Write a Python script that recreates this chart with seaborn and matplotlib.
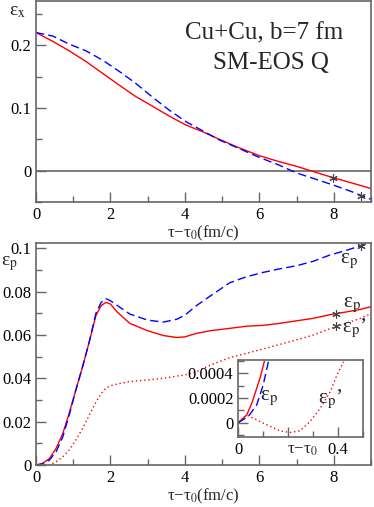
import numpy as np
import pandas as pd
import matplotlib
matplotlib.use('Agg')
import matplotlib.pyplot as plt
import seaborn as sns
from matplotlib.ticker import MultipleLocator

# top panel: eps_x vs tau - tau0
t_x = [0, 0.45, 0.89, 1.34, 1.79, 2.24, 2.68, 3.13, 3.58, 4.03, 4.47, 4.92, 5.37, 6, 6.5, 7, 7.5, 8, 8.5, 9]
epsx_red = [0.22, 0.206, 0.191, 0.174, 0.155, 0.136, 0.118, 0.1026, 0.0868, 0.0726, 0.0621, 0.050, 0.0384,
            0.0238, 0.0148, 0.0068, -0.0025, -0.0116, -0.020, -0.0286]
epsx_blue = [0.22, 0.2145, 0.2016, 0.191, 0.176, 0.158, 0.139, 0.117, 0.0963, 0.0779, 0.0637, 0.049, 0.0374,
             0.021, 0.0095, -0.0037, -0.0135, -0.0233, -0.034, -0.046]
star_x = [7.97, 8.73]
star_y = [-0.0116, -0.0397]

# bottom panel: eps_p (red, blue) and eps_p' (red dotted)
t_p = [0, 0.18, 0.36, 0.54, 0.72, 0.89, 1.07, 1.25, 1.43, 1.61, 1.75, 1.88, 2.0, 2.17, 2.52, 3.0, 3.42,
       3.78, 4.0, 4.31, 4.67, 5.2, 5.65, 6.1, 6.5, 7.0, 7.44, 7.89, 8.34, 8.7, 9.0]
epsp_red = [0, 0.0008, 0.003, 0.0077, 0.0146, 0.0238, 0.0346, 0.0453, 0.0568, 0.069, 0.0735, 0.075, 0.0742,
            0.0707, 0.0653, 0.0619, 0.0597, 0.0588, 0.0591, 0.0607, 0.0619, 0.063, 0.064, 0.0644, 0.0652,
            0.0665, 0.0676, 0.0693, 0.0706, 0.0717, 0.073]
epsp_blue = [0, 0.0005, 0.0023, 0.0061, 0.013, 0.023, 0.0346, 0.0453, 0.0568, 0.070, 0.075, 0.0767, 0.0757,
             0.0737, 0.0696, 0.0668, 0.0659, 0.0672, 0.0691, 0.0735, 0.0778, 0.084, 0.0868, 0.0888, 0.0903,
             0.0919, 0.0939, 0.0968, 0.099, 0.101, 0.103]
epsp2_red = [0, 0, 0, 0.0015, 0.0038, 0.0069, 0.0115, 0.0169, 0.023, 0.029, 0.033, 0.0355, 0.0365, 0.0373,
             0.0385, 0.0392, 0.040, 0.041, 0.0415, 0.043, 0.046, 0.0495, 0.0515, 0.0535, 0.0554, 0.0577,
             0.0599, 0.0628, 0.0655, 0.0675, 0.0699]
pstar_x = [8.72, 8.05, 8.05]
pstar_y = [0.101, 0.0696, 0.064]

# inset: early times
ti_red = [0, 0.034, 0.055, 0.074, 0.09, 0.105]
ei_red = [0, 0.000062, 0.00016, 0.000278, 0.00038, 0.0005]
ti_blue = [0, 0.04, 0.074, 0.1, 0.121]
ei_blue = [0, 0.000049, 0.000143, 0.000305, 0.000495]
ti_dot = [0, 0.034, 0.101, 0.168, 0.208, 0.248, 0.288, 0.329, 0.369, 0.396, 0.423]
ei_dot = [0, 0.000062, -0.0000054, -0.0000676, -0.000081, -0.0000676, 0.000008, 0.000116, 0.00025,
          0.000386, 0.000495]

sns.set_style('ticks')
plt.rcParams['font.family'] = ['Liberation Serif', 'DejaVu Serif']
plt.rcParams['mathtext.fontset'] = 'stix'
plt.rcParams['axes.edgecolor'] = '#666666'
plt.rcParams['axes.linewidth'] = 1.2

fig = plt.figure(figsize=(3.74, 5.07), dpi=100)
ax1 = fig.add_axes([0.0963, 0.6016, 0.896, 0.396])
ax2 = fig.add_axes([0.0963, 0.0828, 0.896, 0.4385])
ax3 = fig.add_axes([0.637, 0.1375, 0.333, 0.1525])

FS = 12
LFS = 15
EPS_P = 'ε$_{\\rm p}$'
EPS_P2 = 'ε$_{\\rm p}$\u2019'


def style(ax):
    ax.tick_params(which='both', direction='in', colors='#666666', labelcolor='black',
                   labelsize=FS, top=False, right=False)
    ax.tick_params(which='major', length=7, width=1.0)
    ax.tick_params(which='minor', length=4, width=1.0)


lw = 1.0
dash = (0, (6, 3))
dot = (0, (1, 2))
star = dict(ls='none', marker=(6, 2, 0), color='#444444', ms=6, mew=0.8)

# top panel
ax1.axhline(0, color='#666666', lw=1.2)
sns.lineplot(x=t_x, y=epsx_red, ax=ax1, color='red', lw=lw)
sns.lineplot(x=t_x, y=epsx_blue, ax=ax1, color='blue', lw=lw, linestyle=dash)
ax1.plot(star_x, star_y, **star)
ax1.set_xlim(0, 9)
ax1.set_ylim(-0.05, 0.27)
ax1.set_xticks([0, 2, 4, 6, 8])
ax1.set_xticklabels(['0', '2', '4', '6', '8'])
ax1.xaxis.set_minor_locator(MultipleLocator(1))
ax1.set_yticks([0, 0.1, 0.2])
ax1.set_yticklabels(['0', '0.1', '0.2'])
ax1.yaxis.set_minor_locator(MultipleLocator(0.05))
ax1.set_xlabel('τ−τ$_{\\rm 0}$(fm/c)', fontsize=FS, labelpad=1)
style(ax1)
ax1.text(0.68, 0.84, 'Cu+Cu, b=7 fm', transform=ax1.transAxes, ha='center', va='center', fontsize=18)
ax1.text(0.70, 0.69, 'SM-EOS Q', transform=ax1.transAxes, ha='center', va='center', fontsize=18)
fig.text(0.025, 0.970, 'ε$_{\\rm x}$', fontsize=14, va='baseline')

# bottom panel
sns.lineplot(x=t_p, y=epsp_red, ax=ax2, color='red', lw=lw)
sns.lineplot(x=t_p, y=epsp_blue, ax=ax2, color='blue', lw=lw, linestyle=dash)
sns.lineplot(x=t_p, y=epsp2_red, ax=ax2, color='red', lw=lw, linestyle=dot)
ax2.plot(pstar_x, pstar_y, **star)
ax2.set_xlim(0, 9)
ax2.set_ylim(0, 0.1025)
ax2.set_xticks([0, 2, 4, 6, 8])
ax2.set_xticklabels(['0', '2', '4', '6', '8'])
ax2.xaxis.set_minor_locator(MultipleLocator(1))
ax2.set_yticks([0, 0.02, 0.04, 0.06, 0.08, 0.1])
ax2.set_yticklabels(['0', '0.02', '0.04', '0.06', '0.08', '0.1'])
ax2.yaxis.set_minor_locator(MultipleLocator(0.01))
ax2.set_xlabel('τ−τ$_{\\rm 0}$(fm/c)', fontsize=FS, labelpad=1)
style(ax2)
fig.text(0.004, 0.476, EPS_P, fontsize=14, va='baseline')
ax2.text(8.16, 0.0931, EPS_P, fontsize=LFS, va='baseline')
ax2.text(8.24, 0.0728, EPS_P, fontsize=LFS, va='baseline')
ax2.text(8.23, 0.0610, EPS_P2, fontsize=LFS, va='baseline')

# inset
sns.lineplot(x=ti_red, y=ei_red, ax=ax3, color='red', lw=lw)
sns.lineplot(x=ti_blue, y=ei_blue, ax=ax3, color='blue', lw=lw, linestyle=dash)
sns.lineplot(x=ti_dot, y=ei_dot, ax=ax3, color='red', lw=lw, linestyle=dot)
ax3.set_xlim(0, 0.5)
ax3.set_ylim(-0.00012, 0.00051)
ax3.set_xticks([0, 0.2, 0.4])
ax3.set_xticklabels(['0', '', '0.4'])
ax3.xaxis.set_minor_locator(MultipleLocator(0.1))
ax3.set_yticks([0, 0.0002, 0.0004])
ax3.set_yticklabels(['0', '0.0002', '0.0004'])
ax3.yaxis.set_minor_locator(MultipleLocator(0.0001))
style(ax3)
ax3.text(0.195, -0.06, 'τ−τ$_{\\rm 0}$', transform=ax3.get_xaxis_transform(), ha='left', va='top', fontsize=FS)
ax3.text(0.087, 0.00018, EPS_P, fontsize=LFS, va='baseline')
ax3.text(0.32, 0.00016, EPS_P2, fontsize=LFS, va='baseline')

fig.savefig('out.png', dpi=100)
